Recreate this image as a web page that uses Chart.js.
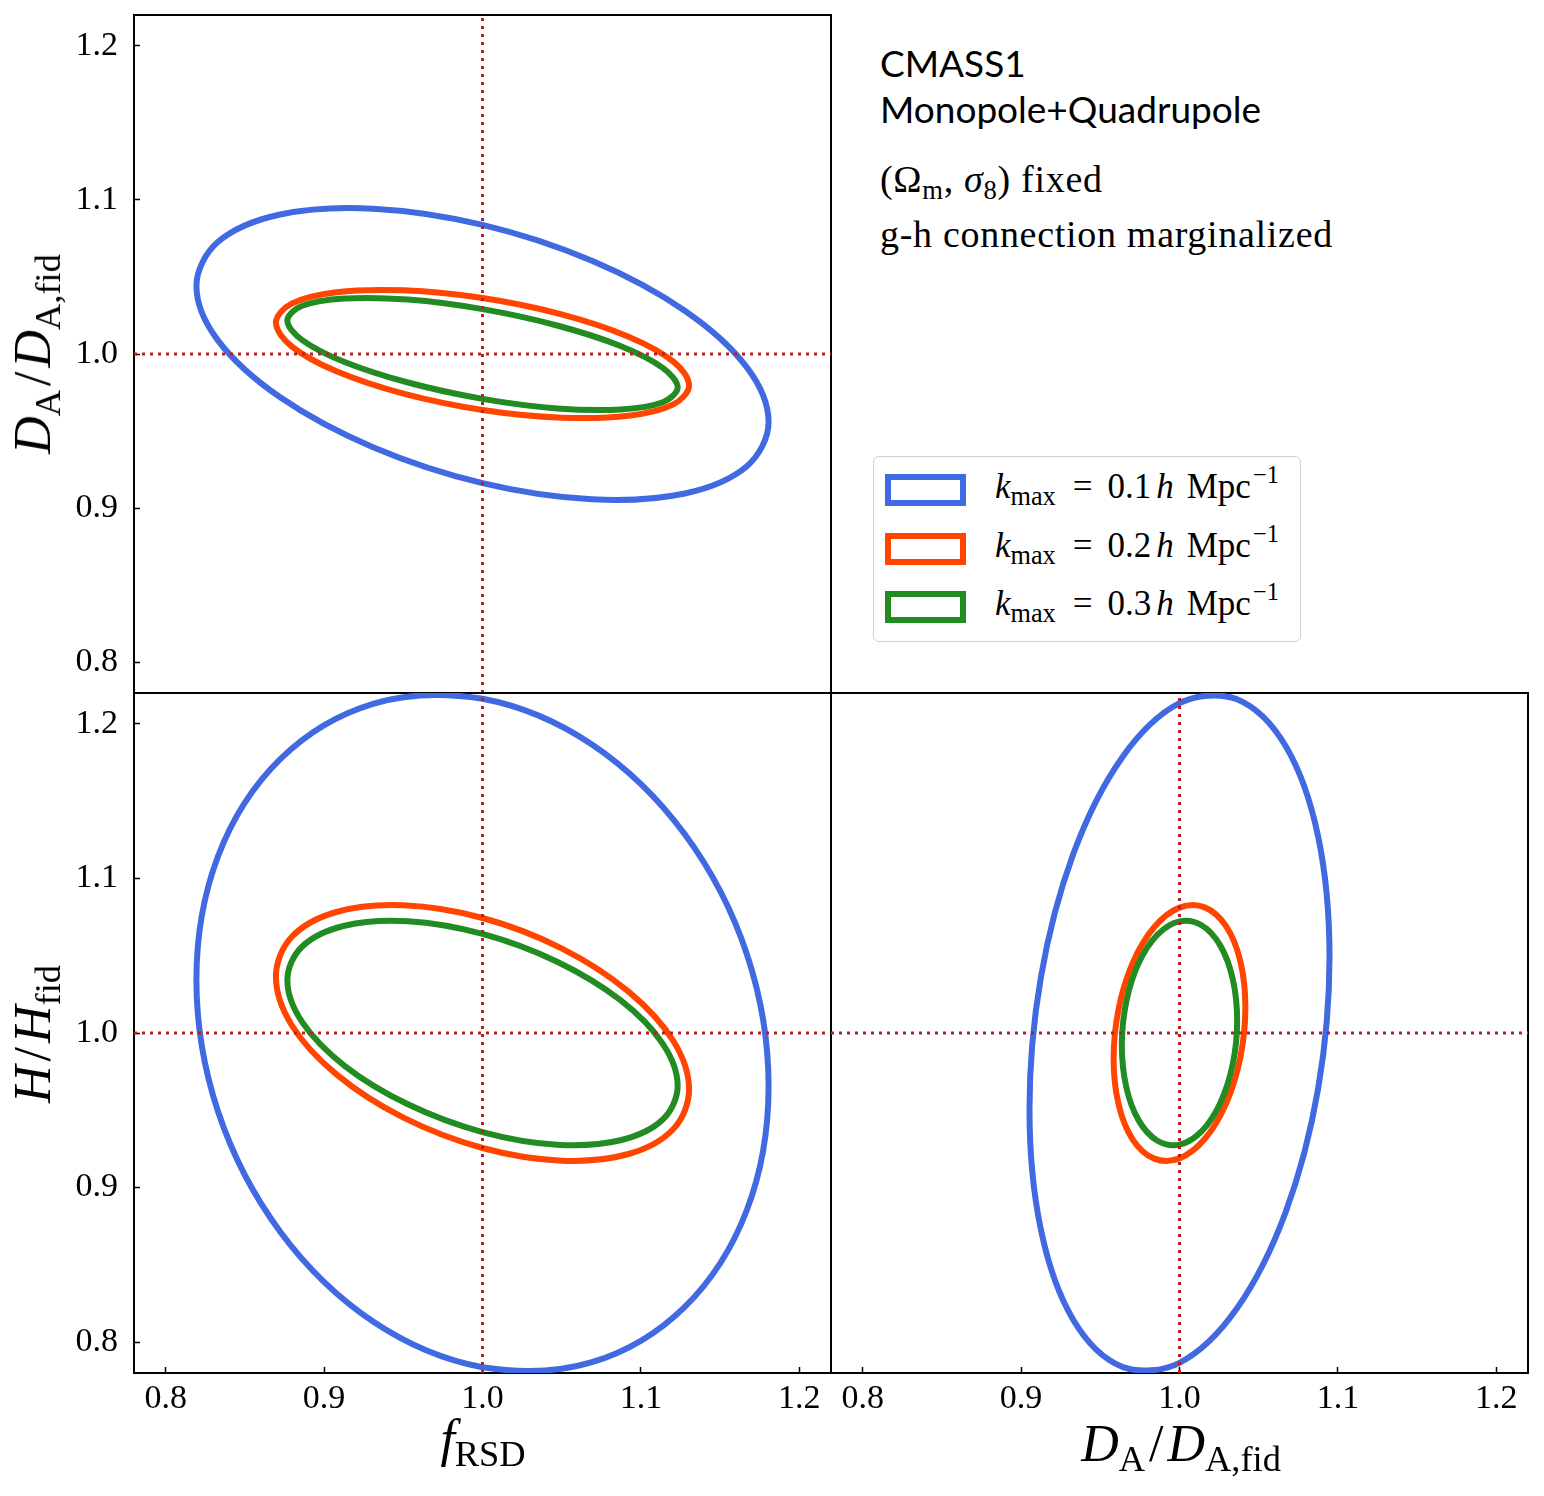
<!DOCTYPE html>
<html>
<head>
<meta charset="utf-8">
<script src="https://cdn.jsdelivr.net/npm/chart.js@4.4.1/dist/chart.umd.min.js"></script>
<style>
html, body { margin: 0; padding: 0; background: #fff; }
#wrap { position: relative; width: 1544px; height: 1496px; overflow: hidden; background: #fff; }
canvas { position: absolute; }
.txt { position: absolute; white-space: nowrap; line-height: 1; color: #000; }
.serif { font-family: 'Liberation Serif', 'Times New Roman', serif; }
.sans { font-family: Lato, 'Open Sans', sans-serif; }
.sub { font-size: 0.7em; position: relative; top: 0.28em; font-style: normal; }
.sup { font-size: 0.7em; position: relative; top: -15px; font-style: normal; margin-left: 2px; }
.sl { margin: 0 4px; }
.ctr { transform: translate(-50%, -50%); }
.rot { transform: translate(-50%, -50%) rotate(-90deg); }
#legend { position: absolute; left: 873px; top: 456px; width: 428px; height: 186px; box-sizing: border-box;
  border: 1.5px solid #d0d0d0; border-radius: 6px; background: rgba(255,255,255,0.8); }
.handle { position: absolute; left: 11px; width: 81px; height: 32px; box-sizing: border-box; border-style: solid; border-width: 6px; }
.ltxt { position: absolute; left: 121px; font-size: 35px; }
.lsub { font-size: 0.75em; position: relative; top: 7px; }
.eq { margin: 0 15px 0 17px; }
.hh { margin-left: 5px; }
.mpc { margin-left: 13px; }
.info { font-size: 38px; letter-spacing: 0.7px; }
</style>
</head>
<body>
<div id="wrap">
  <canvas id="cA" width="840" height="700" style="left:0px;top:0px;width:840px;height:700px"></canvas>
  <canvas id="cB" width="840" height="816" style="left:0px;top:680px;width:840px;height:816px"></canvas>
  <canvas id="cC" width="844" height="816" style="left:700px;top:680px;width:844px;height:816px"></canvas>

  <div class="txt serif rot" style="left:33px;top:354px;font-size:52px"><i>D</i><span class="sub">A</span><span class="sl">/</span><i>D</i><span class="sub">A,fid</span></div>
  <div class="txt serif rot" style="left:33px;top:1034px;font-size:52px"><i>H</i><span class="sl">/</span><i>H</i><span class="sub">fid</span></div>
  <div class="txt serif ctr" style="left:483px;top:1439px;font-size:52px"><i>f</i><span class="sub">RSD</span></div>
  <div class="txt serif ctr" style="left:1181px;top:1444px;font-size:52px"><i>D</i><span class="sub">A</span><span class="sl">/</span><i>D</i><span class="sub">A,fid</span></div>

  <div class="txt sans" style="left:880px;top:44px;font-size:37px">CMASS1</div>
  <div class="txt sans" style="left:880px;top:90px;font-size:37px">Monopole+Quadrupole</div>
  <div class="txt serif info" style="left:880px;top:160px">(Ω<span class="sub">m</span>, <i>σ</i><span class="sub">8</span>) fixed</div>
  <div class="txt serif info" style="left:880px;top:215px">g-h connection marginalized</div>

  <div id="legend"></div>
</div>
<script>
// ---------------- data ----------------
const tickValues = [0.8, 0.9, 1.0, 1.1, 1.2];
const tickLabels = ['0.8', '0.9', '1.0', '1.1', '1.2'];
const axisRange = [0.78, 1.22];
const fiducial = 1.0;
const kmaxValues = ['0.1', '0.2', '0.3'];

// contour points: [x, y]
// panel 1: x = f_RSD, y = D_A/D_A,fid
const fDA_k01 = [[1.1806,0.9559],[1.1669,0.9913],[1.1277,1.0281],[1.0691,1.0605],[1.0,1.0838],[0.9309,1.0943],[0.8723,1.0905],[0.8331,1.0728],[0.8194,1.0441],[0.8331,1.0087],[0.8723,0.9719],[0.9309,0.9395],[1.0,0.9162],[1.0691,0.9057],[1.1277,0.9095],[1.1669,0.9272]];
const fDA_k02 = [[1.1304,0.9796],[1.1205,0.9950],[1.0922,1.0112],[1.0499,1.0257],[1.0,1.0363],[0.9501,1.0413],[0.9078,1.0401],[0.8795,1.0327],[0.8696,1.0204],[0.8795,1.0050],[0.9078,0.9888],[0.9501,0.9743],[1.0,0.9637],[1.0499,0.9587],[1.0922,0.9599],[1.1205,0.9673]];
const fDA_k03 = [[1.1232,0.9782],[1.1138,0.9910],[1.0871,1.0052],[1.0471,1.0185],[1.0,1.0291],[0.9529,1.0353],[0.9129,1.0360],[0.8862,1.0313],[0.8768,1.0218],[0.8862,1.0090],[0.9129,0.9948],[0.9529,0.9815],[1.0,0.9709],[1.0471,0.9647],[1.0871,0.9640],[1.1138,0.9687]];
// panel 2: x = f_RSD, y = H/H_fid
const fH_k01 = [[1.1806,0.9656],[1.1669,1.0510],[1.1277,1.1286],[1.0691,1.1867],[1.0,1.2163],[0.9309,1.2130],[0.8723,1.1772],[0.8331,1.1145],[0.8194,1.0344],[0.8331,0.9490],[0.8723,0.8714],[0.9309,0.8133],[1.0,0.7837],[1.0691,0.7870],[1.1277,0.8228],[1.1669,0.8855]];
const fH_k02 = [[1.1304,0.9636],[1.1205,0.9948],[1.0922,1.0268],[1.0499,1.0548],[1.0,1.0744],[0.9501,1.0826],[0.9078,1.0783],[0.8795,1.0621],[0.8696,1.0364],[0.8795,1.0052],[0.9078,0.9732],[0.9501,0.9452],[1.0,0.9256],[1.0499,0.9174],[1.0922,0.9217],[1.1205,0.9379]];
const fH_k03 = [[1.1232,0.9659],[1.1138,0.9930],[1.0871,1.0212],[1.0471,1.0461],[1.0,1.0641],[0.9529,1.0723],[0.9129,1.0694],[0.8862,1.0560],[0.8768,1.0341],[0.8862,1.0070],[0.9129,0.9788],[0.9529,0.9539],[1.0,0.9359],[1.0471,0.9277],[1.0871,0.9306],[1.1138,0.9440]];
// panel 3: x = D_A/D_A,fid, y = H/H_fid
const DAH_k01 = [[1.0947,1.0493],[1.0875,1.1272],[1.0670,1.1857],[1.0362,1.2160],[1.0,1.2134],[0.9638,1.1783],[0.9330,1.1160],[0.9125,1.0361],[0.9053,0.9507],[0.9125,0.8728],[0.9330,0.8143],[0.9638,0.7840],[1.0,0.7866],[1.0362,0.8217],[1.0670,0.8840],[1.0875,0.9639]];
const DAH_k02 = [[1.0416,1.0166],[1.0384,1.0464],[1.0294,1.0691],[1.0159,1.0813],[1.0,1.0811],[0.9841,1.0686],[0.9706,1.0457],[0.9616,1.0158],[0.9584,0.9834],[0.9616,0.9536],[0.9706,0.9309],[0.9841,0.9187],[1.0,0.9189],[1.0159,0.9314],[1.0294,0.9543],[1.0384,0.9842]];
const DAH_k03 = [[1.0364,1.0080],[1.0336,1.0350],[1.0257,1.0567],[1.0139,1.0697],[1.0,1.0722],[0.9861,1.0636],[0.9743,1.0454],[0.9664,1.0202],[0.9636,0.9920],[0.9664,0.9650],[0.9743,0.9433],[0.9861,0.9303],[1.0,0.9278],[1.0139,0.9364],[1.0257,0.9546],[1.0336,0.9798]];

// ---------------- styles ----------------
const colors = ['#4169E1', '#FF4500', '#228B22'];
const refColor = '#B22222';
const serifFont = "'Liberation Serif', 'Times New Roman', serif";

// closed loop for the library's spline: wrap neighbours, hide the two helper segments
function loopData(pts) {
  const n = pts.length;
  const seq = [pts[n - 1]].concat(pts, [pts[0], pts[1]]);
  return seq.map(p => ({ x: p[0], y: p[1] }));
}
function ellipseDataset(pts, i) {
  const n = pts.length;
  return {
    data: loopData(pts),
    showLine: true,
    borderColor: colors[i],
    borderWidth: 6,
    pointRadius: 0,
    pointHoverRadius: 0,
    tension: 0.35,
    fill: false,
    order: 3 - i,
    segment: {
      borderColor: ctx => (ctx.p0DataIndex === 0 || ctx.p0DataIndex === n + 1) ? 'rgba(0,0,0,0)' : undefined
    }
  };
}
function refDatasets() {
  const common = { showLine: true, borderColor: refColor, borderWidth: 3, borderDash: [3, 5],
    borderCapStyle: 'butt', pointRadius: 0, pointHoverRadius: 0, tension: 0, fill: false, order: 0 };
  return [
    Object.assign({ data: [{ x: fiducial, y: axisRange[0] }, { x: fiducial, y: axisRange[1] }] }, common),
    Object.assign({ data: [{ x: axisRange[0], y: fiducial }, { x: axisRange[1], y: fiducial }] }, common)
  ];
}
function zeroPad(s) { s.paddingTop = 0; s.paddingBottom = 0; s.paddingLeft = 0; s.paddingRight = 0; }
function mainAxis(pos, showLabels, showTicks, size, pad) {
  const horiz = (pos === 'bottom');
  return {
    type: 'linear', position: pos, min: axisRange[0], max: axisRange[1],
    afterBuildTicks: s => { s.ticks = tickValues.map(v => ({ value: v })); },
    afterFit: s => { if (horiz) { s.height = size; } else { s.width = size; } zeroPad(s); },
    ticks: { display: showLabels, autoSkip: false, maxRotation: 0, minRotation: 0, padding: pad, color: '#000',
      font: { family: serifFont, size: 34 }, callback: (v, i) => tickLabels[i] },
    grid: { display: showTicks, drawOnChartArea: false, drawTicks: true, tickLength: -6, tickWidth: 1.5, tickColor: '#000' },
    border: { display: true, color: '#000', width: 2 }
  };
}
function frameAxis(pos) {
  const horiz = (pos === 'top');
  return {
    type: 'linear', position: pos, min: axisRange[0], max: axisRange[1], display: true,
    afterFit: s => { if (horiz) { s.height = 0; } else { s.width = 0; } zeroPad(s); },
    ticks: { display: false },
    grid: { display: false },
    border: { display: true, color: '#000', width: 2 }
  };
}
function makeChart(id, sets, xAx, yAx, padding) {
  const datasets = refDatasets().concat(sets.map((s, i) => ellipseDataset(s, i)));
  return new Chart(document.getElementById(id), {
    type: 'scatter',
    data: { datasets: datasets },
    options: {
      responsive: false, animation: false, events: [],
      layout: { padding: padding },
      plugins: { legend: { display: false }, tooltip: { enabled: false }, title: { display: false } },
      scales: { x: xAx, y: yAx, x2: frameAxis('top'), y2: frameAxis('right') }
    }
  });
}

makeChart('cA', [fDA_k01, fDA_k02, fDA_k03],
  mainAxis('bottom', false, false, 7, 0), mainAxis('left', true, true, 134, 22),
  { top: 15, right: 9, left: 0, bottom: 0 });
makeChart('cB', [fH_k01, fH_k02, fH_k03],
  mainAxis('bottom', true, true, 123, 12), mainAxis('left', true, true, 134, 22),
  { top: 13, right: 9, left: 0, bottom: 0 });
makeChart('cC', [DAH_k01, DAH_k02, DAH_k03],
  mainAxis('bottom', true, true, 123, 12), mainAxis('left', false, false, 131, 0),
  { top: 13, right: 16, left: 0, bottom: 0 });

// legend
const legend = document.getElementById('legend');
kmaxValues.forEach((k, i) => {
  const h = document.createElement('div');
  h.className = 'handle';
  h.style.top = (17 + i * 58.7) + 'px';
  h.style.borderColor = colors[i];
  legend.appendChild(h);
  const t = document.createElement('div');
  t.className = 'txt serif ltxt';
  t.style.top = (12 + i * 58.7) + 'px';
  t.innerHTML = '<i>k</i><span class="lsub">max</span><span class="eq">=</span>' + k +
    '<i class="hh">h</i><span class="mpc">Mpc</span><span class="sup">\u22121</span>';
  legend.appendChild(t);
});
</script>
</body>
</html>
